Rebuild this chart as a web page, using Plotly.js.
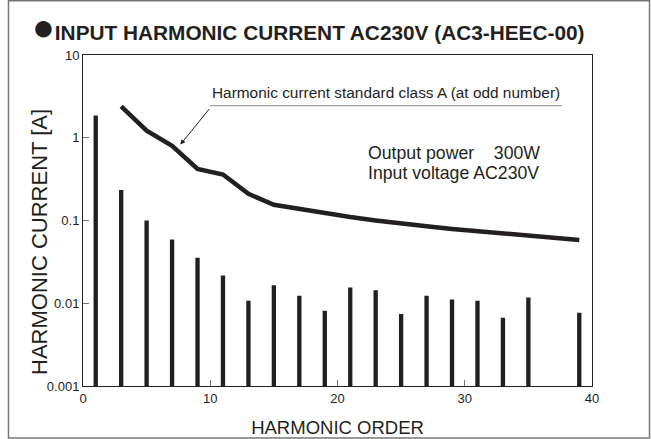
<!DOCTYPE html>
<html>
<head>
<meta charset="utf-8">
<script src="https://cdn.plot.ly/plotly-3.0.1.min.js"></script>
<style>
html, body { margin: 0; padding: 0; background: #ffffff; }
#chart { width: 651px; height: 439px; }
</style>
</head>
<body>
<div id="chart"></div>
<script>
// Measured harmonic currents (odd orders; 37th not shown in source)
const orders = [1, 3, 5, 7, 9, 11, 13, 15, 17, 19, 21, 23, 25, 27, 29, 31, 33, 35, 39];
const currents = [1.86, 0.234, 0.100, 0.059, 0.0354, 0.0217, 0.0107, 0.0165, 0.0123, 0.0081,
                  0.0155, 0.0144, 0.0074, 0.0123, 0.0111, 0.0107, 0.0067, 0.0117, 0.0077];

// Harmonic current standard class A limit (odd orders)
const limitOrders = [3, 5, 7, 9, 11, 13, 15, 17, 19, 21, 23, 25, 27, 29, 31, 33, 35, 37, 39];
const limitValues = [2.4, 1.22, 0.8, 0.42, 0.36, 0.21, 0.155, 0.138, 0.122, 0.11, 0.1, 0.091,
                     0.085, 0.079, 0.074, 0.069, 0.065, 0.061, 0.058];

const xTicks = [0, 10, 20, 30, 40];
const yTicks = [0.001, 0.01, 0.1, 1, 10];
const yTickText = ['0.001', '0.01', '0.1', '1', '10'];

const ink = '#231f20';
const FONT = 'Liberation Sans, Arial, Helvetica, sans-serif';

const traces = [
  {
    type: 'bar',
    x: orders,
    y: currents,
    width: 0.34,
    marker: { color: ink, line: { width: 0 } },
    hoverinfo: 'skip'
  },
  {
    type: 'scatter',
    mode: 'lines',
    x: limitOrders,
    y: limitValues,
    line: { color: ink, width: 4.5 },
    hoverinfo: 'skip'
  }
];

const layout = {
  width: 651,
  height: 439,
  margin: { l: 83, r: 59, t: 55, b: 53, pad: 0 },
  paper_bgcolor: '#ffffff',
  plot_bgcolor: '#ffffff',
  showlegend: false,
  font: { family: FONT, color: ink, size: 13 },
  title: {
    text: '<span style="font-size:38px">●</span><b>INPUT HARMONIC CURRENT AC230V (AC3-HEEC-00)</b>',
    xref: 'container', yref: 'container',
    x: 0.049, xanchor: 'left',
    y: 0.9248, yanchor: 'middle',
    font: { family: FONT, size: 20.8, color: ink }
  },
  xaxis: {
    range: [0, 40],
    tickvals: xTicks,
    ticktext: xTicks.map(String),
    ticks: 'inside',
    ticklen: 6,
    tickcolor: '#777',
    tickfont: { size: 13, color: ink },
    showgrid: false,
    zeroline: false,
    showline: true,
    mirror: true,
    linecolor: ink,
    linewidth: 1,
    title: { text: 'HARMONIC ORDER', font: { size: 18.5, color: ink }, standoff: 16 },
    fixedrange: true
  },
  yaxis: {
    type: 'log',
    range: [-3, 1],
    tickvals: yTicks,
    ticktext: yTickText,
    ticks: 'inside',
    ticklen: 6,
    tickcolor: '#777',
    tickfont: { size: 13, color: ink },
    showgrid: false,
    zeroline: false,
    showline: true,
    mirror: true,
    linecolor: ink,
    linewidth: 1,
    fixedrange: true
  },
  shapes: [
    { type: 'rect', xref: 'paper', yref: 'paper', x0: -0.1464, x1: 1.113, y0: -0.1571, y1: 1.1637,
      line: { color: '#777', width: 1.5 }, fillcolor: 'rgba(0,0,0,0)', layer: 'below' },
    { type: 'line', xref: 'paper', yref: 'paper', x0: 0.2495, x1: 0.9405, y0: 0.8468, y1: 0.8468,
      line: { color: '#888', width: 1 } }
  ],
  annotations: [
    { text: 'HARMONIC CURRENT [A]', textangle: -90, xref: 'paper', yref: 'paper',
      x: -0.0865, y: 0.435, xanchor: 'center', yanchor: 'middle', showarrow: false,
      font: { size: 22, color: ink } },
    { text: 'Harmonic current standard class A (at odd number)', xref: 'paper', yref: 'paper',
      x: 0.2495, y: 0.8858, xanchor: 'left', yanchor: 'middle', showarrow: false,
      font: { size: 15.4, color: ink } },
    { text: '', xref: 'x', yref: 'y', x: 7.65, y: Math.log10(0.826),
      showarrow: true, ax: 30, ay: -37, arrowhead: 2, arrowsize: 1, arrowwidth: 1, arrowcolor: ink },
    { text: 'Output power\u00a0\u00a0\u00a0\u00a0300W', xref: 'paper', yref: 'paper',
      x: 0.5566, y: 0.7039, xanchor: 'left', yanchor: 'middle', showarrow: false,
      font: { size: 17.7, color: ink } },
    { text: 'Input voltage AC230V', xref: 'paper', yref: 'paper',
      x: 0.5566, y: 0.6435, xanchor: 'left', yanchor: 'middle', showarrow: false,
      font: { size: 17.7, color: ink } }
  ]
};

Plotly.newPlot('chart', traces, layout, { displayModeBar: false, staticPlot: true });
</script>
</body>
</html>
